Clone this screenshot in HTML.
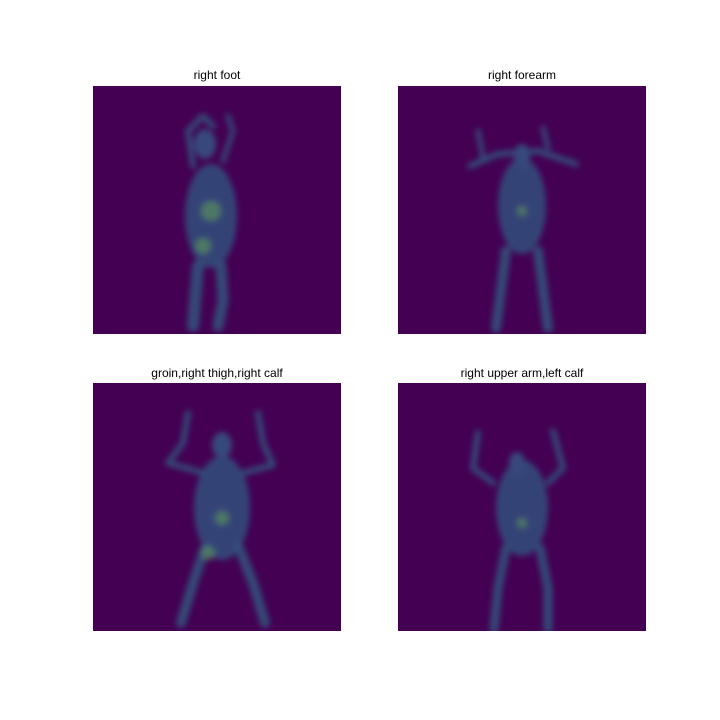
<!DOCTYPE html>
<html><head><meta charset="utf-8"><style>
body{margin:0;background:#fff;width:720px;height:720px;overflow:hidden;font-family:"Liberation Sans","DejaVu Sans",sans-serif}
.t{position:absolute;font-size:12px;color:#000;text-align:center;width:248px}
svg.p{position:absolute;width:248px;height:248px}
</style></head><body>
<div class="t" style="left:93px;top:68px">right foot</div>
<div class="t" style="left:398px;top:68px">right forearm</div>
<div class="t" style="left:93px;top:366px">groin,right thigh,right calf</div>
<div class="t" style="left:398px;top:366px">right upper arm,left calf</div>
<svg class="p" id="p0" style="left:93px;top:86px"></svg>
<svg class="p" id="p1" style="left:398px;top:86px"></svg>
<svg class="p" id="p2" style="left:93px;top:383px"></svg>
<svg class="p" id="p3" style="left:398px;top:383px"></svg>
<script>
const NS='http://www.w3.org/2000/svg';
const figures=[
 {torso:[118,130,26,52],head:[112,58,11,15],limbs:[[[100,80,95,45,110,30,120,40],6],[[130,75,140,45,135,30],5],[[105,180,100,240],12],[[128,180,130,215,125,240],11]],spots:[[118,125,10],[110,160,8]]},
 {torso:[124,120,24,48],head:[124,70,8,12],limbs:[[[72,80,100,68,140,65,178,78],6],[[85,72,80,45],5],[[150,62,145,42],5],[[108,165,98,242],10],[[140,165,150,242],10]],spots:[[124,125,5]]},
 {torso:[129,125,28,52],head:[129,62,10,13],limbs:[[[95,30,90,60,75,80,110,90],6],[[165,30,170,60,180,82,150,90],6],[[112,165,100,200,88,240],10],[[146,165,160,200,172,240],10]],spots:[[129,135,7],[115,170,7]]},
 {torso:[124,125,26,48],head:[119,80,8,11],limbs:[[[80,50,75,85,95,100],6],[[155,48,165,85,150,100],6],[[108,165,100,205,96,246],9],[[142,165,150,205,150,246],9]],spots:[[124,140,5]]}
];
figures.forEach((f,i)=>{
 const s=document.getElementById('p'+i);
 s.innerHTML='<defs><filter id="b'+i+'"><feGaussianBlur stdDeviation="3"/></filter></defs><rect width="248" height="248" fill="#440154"/>';
 const g=document.createElementNS(NS,'g');g.setAttribute('filter','url(#b'+i+')');
 
 
 g.setAttribute('opacity','0.7');
 s.appendChild(g);
 const el=(t,a)=>{const e=document.createElementNS(NS,t);for(const k in a)e.setAttribute(k,a[k]);g.appendChild(e);return e};
 f.limbs.forEach(l=>{const p=l[0];let pts=[];for(let j=0;j<p.length;j+=2)pts.push(p[j]+','+p[j+1]);
  el('polyline',{points:pts.join(' '),fill:'none',stroke:'#2a788e','stroke-width':l[1],'stroke-linecap':'round','stroke-linejoin':'round',opacity:0.85});});
 el('ellipse',{cx:f.torso[0],cy:f.torso[1],rx:f.torso[2],ry:f.torso[3],fill:'#2c728e',opacity:0.85});
 el('ellipse',{cx:f.head[0],cy:f.head[1],rx:f.head[2],ry:f.head[3],fill:'#31688e'});
 f.spots.forEach(p=>el('circle',{cx:p[0],cy:p[1],r:p[2],fill:'#5ec962',opacity:0.7}));
});
</script>
</body></html>
